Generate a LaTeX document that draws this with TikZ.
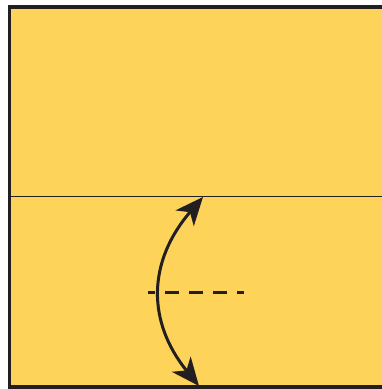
\documentclass[tikz,border=0pt]{standalone}
\usepackage{tikz}
\usetikzlibrary{arrows.meta}
\definecolor{paper}{RGB}{253,211,90}
\definecolor{ink}{RGB}{35,31,32}
\begin{document}
\begin{tikzpicture}[x=1pt,y=-1pt]
\useasboundingbox (0,0) rectangle (382,389);
\clip (0,0) rectangle (382,389);
\fill[paper] (9.5,7) rectangle (400,387);
\draw[ink,line width=3.5pt] (9.5,400) -- (9.5,7) -- (400,7);
\draw[ink,line width=4pt] (9.5,387) -- (400,387);
\draw[ink,line width=0.9pt] (11,196) -- (400,196);
\coordinate (upper) at (203,197);
\coordinate (lower) at (199,386);
\coordinate (dashl) at (148,292);
\coordinate (dashr) at (243.5,292);
\draw[ink,line width=3pt,dash pattern=on 14pt off 10pt,dash phase=7pt] (dashl) -- (dashr);
\draw[ink,line width=3pt,{Stealth[length=28pt,width=24pt,inset=8pt]}-{Stealth[length=28pt,width=24pt,inset=8pt]}]
  (upper) .. controls (147,262) and (147,322) .. (lower);
\end{tikzpicture}
\end{document}
